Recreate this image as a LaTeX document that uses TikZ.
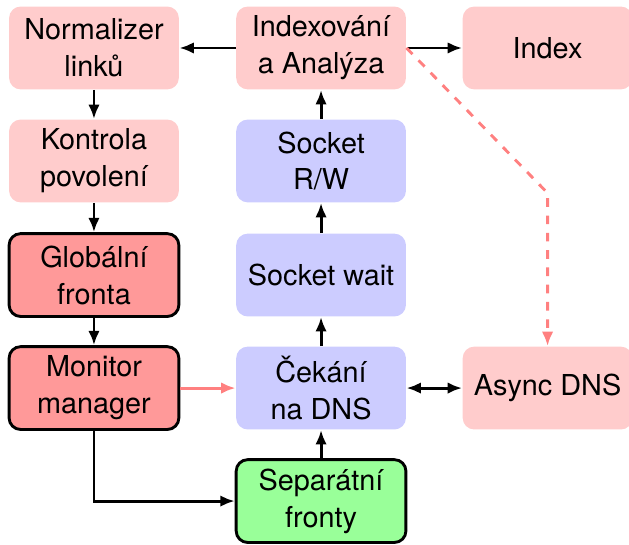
\documentclass[tikz,border=0pt]{standalone}
\usepackage{fontspec}
\setmainfont{TeX Gyre Heros}
\usetikzlibrary{arrows.meta}

\tikzset{
  box/.style={rounded corners=4pt, minimum width=2.07cm, minimum height=1.01cm,
    align=center, inner sep=0pt, font=\fontsize{10}{12.8}\selectfont},
  pinkbox/.style={box, fill=red!20},
  bluebox/.style={box, fill=blue!20},
  redbox/.style={box, fill=red!40, draw=black, line width=1pt},
  greenbox/.style={box, fill=green!40, draw=black, line width=1pt},
  link/.style={line width=1pt, -{Latex[length=5pt,width=4pt]}},
  twolink/.style={line width=1pt, {Latex[length=5pt,width=4pt]}-{Latex[length=5pt,width=4pt]}},
}

\begin{document}
\begin{tikzpicture}
\useasboundingbox (0,0) rectangle (7.67,-6.634);

% first column
\node[pinkbox] (norm) at (1.146,-0.585) {Normalizer\\linků};
\node[pinkbox] (kontr) at (1.146,-1.963) {Kontrola\\povolení};
\node[redbox] (glob) at (1.146,-3.354) {Globální\\fronta};
\node[redbox] (mon) at (1.146,-4.732) {Monitor\\manager};

% second column
\node[pinkbox] (idx) at (3.915,-0.585) {Indexování\\a Analýza};
\node[bluebox] (rw) at (3.915,-1.963) {Socket\\R/W};
\node[bluebox] (wait) at (3.915,-3.354) {Socket wait};
\node[bluebox] (cek) at (3.915,-4.732) {Čekání\\na DNS};
\node[greenbox] (sep) at (3.915,-6.11) {Separátní\\fronty};

% third column
\node[pinkbox] (index) at (6.677,-0.585) {Index};
\node[pinkbox] (async) at (6.677,-4.732) {Async DNS};
\coordinate (bend) at (6.677,-2.354);

\draw[link] (idx) -- (norm);
\draw[link] (idx) -- (index);
\draw[link] (norm) -- (kontr);
\draw[link] (kontr) -- (glob);
\draw[link] (glob) -- (mon);
\draw[link,red!50] (mon) -- (cek);
\draw[link] (mon) |- (sep);
\draw[link] (sep) -- (cek);
\draw[link] (cek) -- (wait);
\draw[link] (wait) -- (rw);
\draw[link] (rw) -- (idx);
\draw[twolink] (cek) -- (async);
\draw[link,red!50,dashed] (idx.east) -- (bend) -- (async);

\end{tikzpicture}
\end{document}
